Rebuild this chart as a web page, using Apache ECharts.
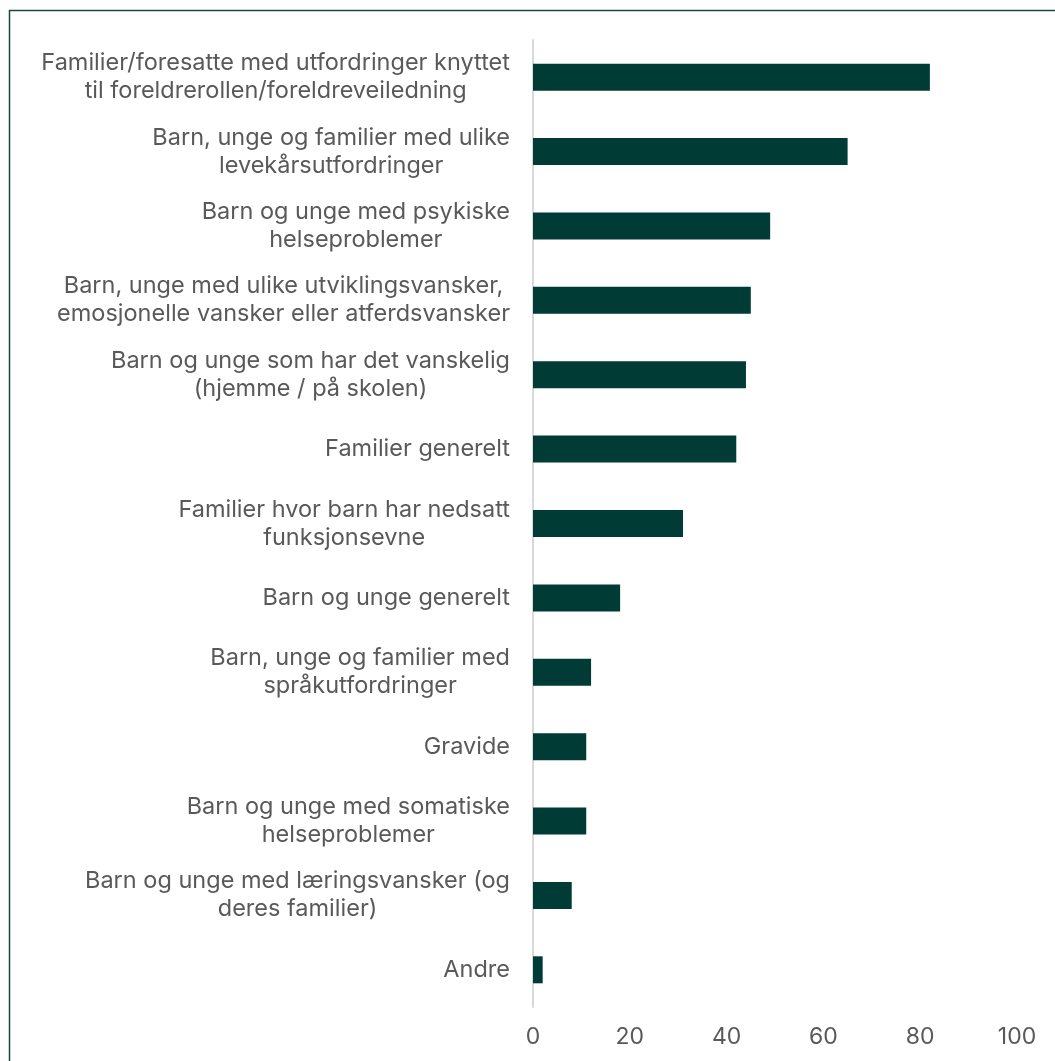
<!DOCTYPE html>
<html><head><meta charset="utf-8">
<script src="https://cdn.jsdelivr.net/npm/echarts@6/dist/echarts.min.js"></script>
<style>html,body{margin:0;padding:0;background:#fff}#c{width:1055px;height:1061px}</style>
</head><body><div id="c"></div>
<script>
const categories = [
  "Familier/foresatte med utfordringer knyttet\ntil foreldrerollen/foreldreveiledning",
  "Barn, unge og familier med ulike\nlevekårsutfordringer",
  "Barn og unge med psykiske\nhelseproblemer",
  "Barn, unge med ulike utviklingsvansker,\nemosjonelle vansker eller atferdsvansker",
  "Barn og unge som har det vanskelig\n(hjemme / på skolen)",
  "Familier generelt",
  "Familier hvor barn har nedsatt\nfunksjonsevne",
  "Barn og unge generelt",
  "Barn, unge og familier med\nspråkutfordringer",
  "Gravide",
  "Barn og unge med somatiske\nhelseproblemer",
  "Barn og unge med læringsvansker (og\nderes familier)",
  "Andre"
];
const values = [82, 65, 49, 45, 44, 42, 31, 18, 12, 11, 11, 8, 2];
const xTicks = [0, 20, 40, 60, 80, 100];

const chart = echarts.init(document.getElementById('c'));
chart.setOption({
  animation: false,
  textStyle: { fontFamily: 'Inter' },
  graphic: [{
    type: 'rect', shape: { x: 9.5, y: 10.5, width: 1200, height: 1200 },
    style: { fill: 'none', stroke: '#1b4a42', lineWidth: 1.5 }, silent: true
  }],
  grid: { left: 533, right: 38, top: 40, bottom: 54, containLabel: false },
  xAxis: {
    type: 'value', min: 0, max: 100, interval: 20,
    axisLine: { show: false }, axisTick: { show: false }, splitLine: { show: false },
    axisLabel: { color: '#595959', fontSize: 23, margin: 19,
      formatter: v => xTicks.includes(v) ? String(v) : '' }
  },
  yAxis: {
    type: 'category', inverse: true, data: categories,
    axisLine: { show: true, lineStyle: { color: '#d9d9d9', width: 2 } },
    axisTick: { show: false },
    axisLabel: {
      color: '#595959', fontSize: 23.5, lineHeight: 28, margin: 23, align: 'right',
      formatter: v => v.split('\n').map(l => '{c|' + l + '}').join('\n'),
      rich: { c: { align: 'center', color: '#595959', fontSize: 23.5, lineHeight: 28, fontFamily: 'Inter' } }
    }
  },
  series: [{
    type: 'bar', data: values, barWidth: 27,
    itemStyle: { color: '#003b36' }
  }]
});
</script></body></html>
